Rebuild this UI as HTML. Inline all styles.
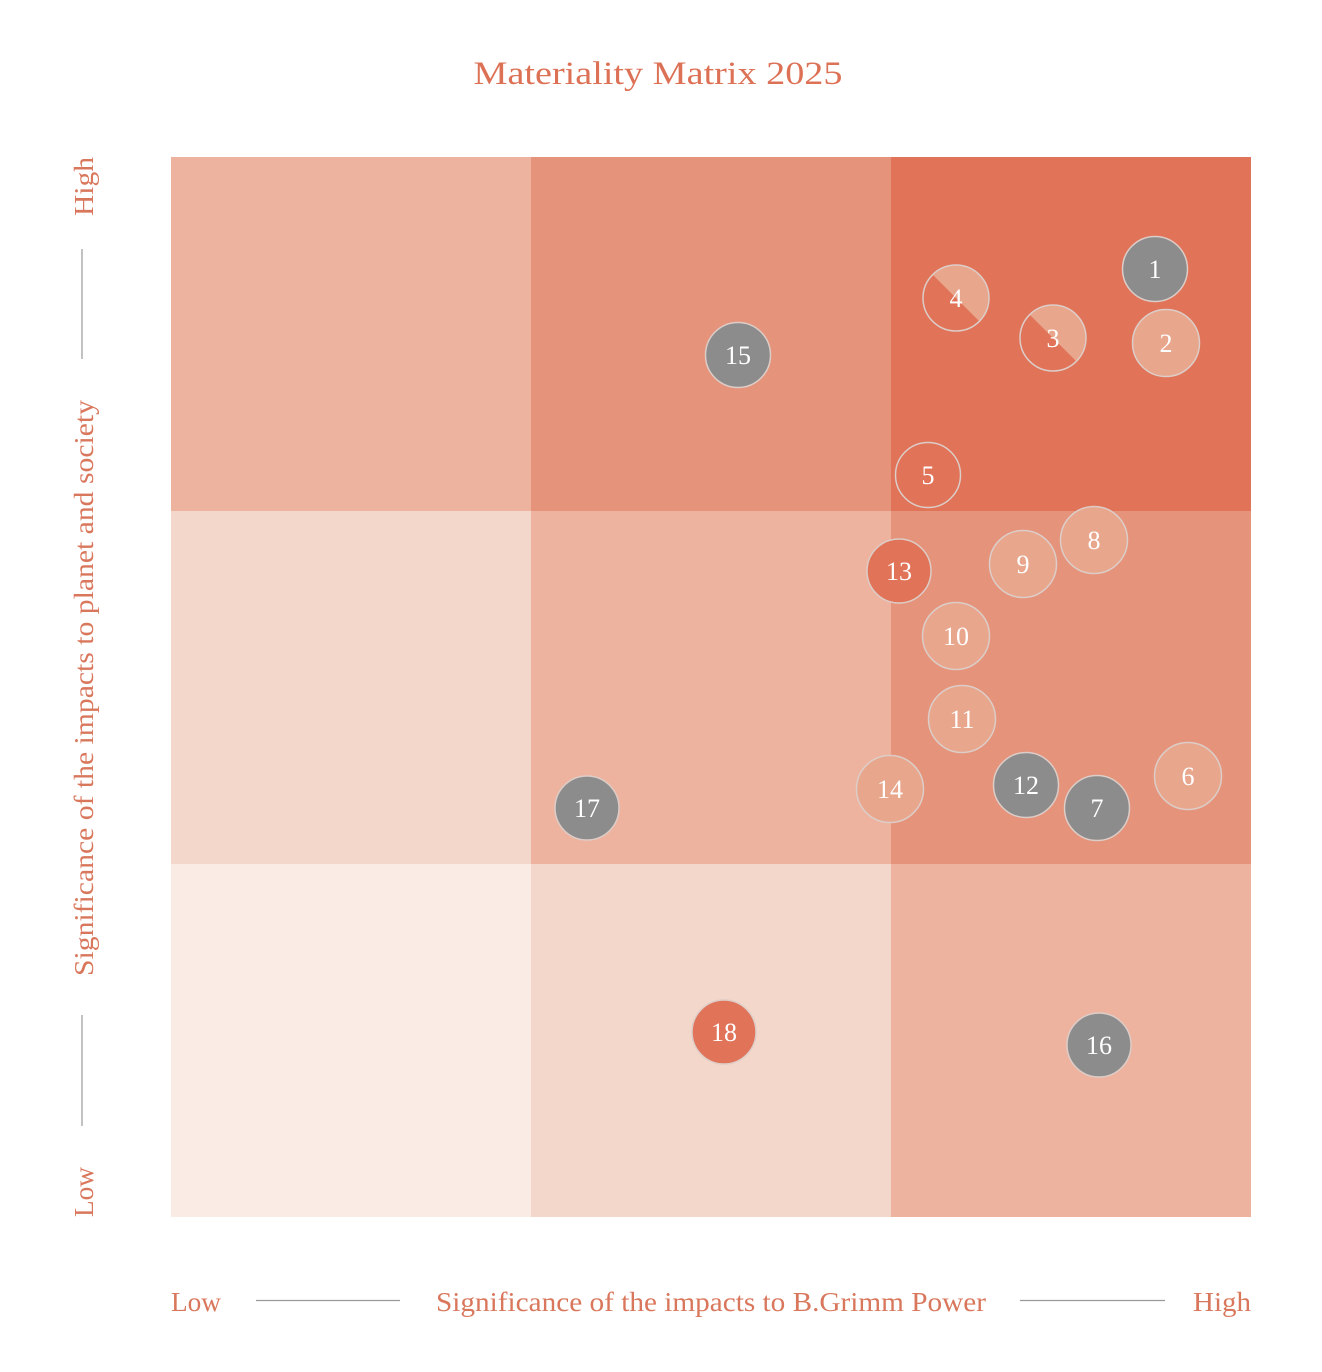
<!DOCTYPE html>
<html>
<head>
<meta charset="utf-8">
<style>
  html, body { margin: 0; padding: 0; background: #ffffff; }
  svg { display: block; }
  text { font-family: "Liberation Serif", serif; }
</style>
</head>
<body>
<svg width="1322" height="1372" viewBox="0 0 1322 1372" xmlns="http://www.w3.org/2000/svg">
  <rect x="0" y="0" width="1322" height="1372" fill="#ffffff"/>

  <!-- Title -->
  <text x="658" y="84" font-size="33" fill="#dc7156" text-anchor="middle" textLength="369" lengthAdjust="spacingAndGlyphs">Materiality Matrix 2025</text>

  <!-- Grid cells -->
  <rect x="171" y="157" width="360" height="354" fill="#edb39f"/>
  <rect x="531" y="157" width="360" height="354" fill="#e5937a"/>
  <rect x="891" y="157" width="360" height="354" fill="#e07358"/>

  <rect x="171" y="511" width="360" height="353" fill="#f3d7ca"/>
  <rect x="531" y="511" width="360" height="353" fill="#edb39f"/>
  <rect x="891" y="511" width="360" height="353" fill="#e5937a"/>

  <rect x="171" y="864" width="360" height="353" fill="#faece5"/>
  <rect x="531" y="864" width="360" height="353" fill="#f3d7ca"/>
  <rect x="891" y="864" width="360" height="353" fill="#edb39f"/>

  <defs>
    <clipPath id="c4"><circle cx="956" cy="298" r="33"/></clipPath>
    <clipPath id="c3"><circle cx="1053" cy="338" r="33"/></clipPath>
  </defs>

  <!-- Circles -->
  <g stroke="#ddcdc8" stroke-width="1.5">
    <circle cx="1155" cy="269" r="32.5" fill="#8c8c8c"/>
    <circle cx="1166" cy="343" r="33.5" fill="#e8a68c"/>
    <circle cx="956" cy="298" r="33" fill="#e07358" stroke="none"/>
    <polygon points="923,265 989,265 989,331" fill="#e8a68c" clip-path="url(#c4)" stroke="none"/>
    <circle cx="956" cy="298" r="33" fill="none"/>
    <circle cx="1053" cy="338" r="33" fill="#e07358" stroke="none"/>
    <polygon points="1020,305 1086,305 1086,371" fill="#e8a68c" clip-path="url(#c3)" stroke="none"/>
    <circle cx="1053" cy="338" r="33" fill="none"/>
    <circle cx="738" cy="355" r="32.5" fill="#8c8c8c"/>
    <circle cx="928" cy="475" r="32.5" fill="#e07358"/>
    <circle cx="1094" cy="540" r="33.5" fill="#e8a68c"/>
    <circle cx="1023" cy="564" r="33.5" fill="#e8a68c"/>
    <circle cx="899" cy="571" r="32" fill="#e07358"/>
    <circle cx="956" cy="636" r="33.5" fill="#e8a68c"/>
    <circle cx="962" cy="719" r="33.5" fill="#e8a68c"/>
    <circle cx="890" cy="789" r="33.5" fill="#e8a68c"/>
    <circle cx="1026" cy="785" r="32.5" fill="#8c8c8c"/>
    <circle cx="1097" cy="808" r="32.5" fill="#8c8c8c"/>
    <circle cx="1188" cy="776" r="33.5" fill="#e8a68c"/>
    <circle cx="587" cy="808" r="32" fill="#8c8c8c"/>
    <circle cx="724" cy="1032" r="32" fill="#e07358"/>
    <circle cx="1099" cy="1045" r="32" fill="#8c8c8c"/>
  </g>

  <!-- Numbers -->
  <g font-size="26" fill="#ffffff" text-anchor="middle">
    <text x="1155" y="278">1</text>
    <text x="1166" y="352">2</text>
    <text x="1053" y="347">3</text>
    <text x="956" y="307">4</text>
    <text x="928" y="484">5</text>
    <text x="1188" y="785">6</text>
    <text x="1097" y="817">7</text>
    <text x="1094" y="549">8</text>
    <text x="1023" y="573">9</text>
    <text x="956" y="645">10</text>
    <text x="962" y="728">11</text>
    <text x="1026" y="794">12</text>
    <text x="899" y="580">13</text>
    <text x="890" y="798">14</text>
    <text x="738" y="364">15</text>
    <text x="1099" y="1054">16</text>
    <text x="587" y="817">17</text>
    <text x="724" y="1041">18</text>
  </g>

  <!-- Bottom axis -->
  <g font-size="27" fill="#d9775c">
    <text x="171" y="1311" textLength="50" lengthAdjust="spacingAndGlyphs">Low</text>
    <text x="436" y="1311" textLength="550" lengthAdjust="spacingAndGlyphs">Significance of the impacts to B.Grimm Power</text>
    <text x="1193" y="1311" textLength="58" lengthAdjust="spacingAndGlyphs">High</text>
  </g>
  <line x1="256" y1="1300.5" x2="400" y2="1300.5" stroke="#9a9a9a" stroke-width="1.2"/>
  <line x1="1020" y1="1300.5" x2="1165" y2="1300.5" stroke="#9a9a9a" stroke-width="1.2"/>

  <!-- Left axis (rotated) -->
  <g font-size="27" fill="#d9775c">
    <text transform="translate(93,216) rotate(-90)" x="0" y="0" textLength="59" lengthAdjust="spacingAndGlyphs">High</text>
    <text transform="translate(93,976) rotate(-90)" x="0" y="0" textLength="576" lengthAdjust="spacingAndGlyphs">Significance of the impacts to planet and society</text>
    <text transform="translate(93,1217) rotate(-90)" x="0" y="0" textLength="50" lengthAdjust="spacingAndGlyphs">Low</text>
  </g>
  <line x1="82" y1="249" x2="82" y2="359" stroke="#9a9a9a" stroke-width="1.2"/>
  <line x1="82" y1="1015" x2="82" y2="1126" stroke="#9a9a9a" stroke-width="1.2"/>
</svg>
</body>
</html>
